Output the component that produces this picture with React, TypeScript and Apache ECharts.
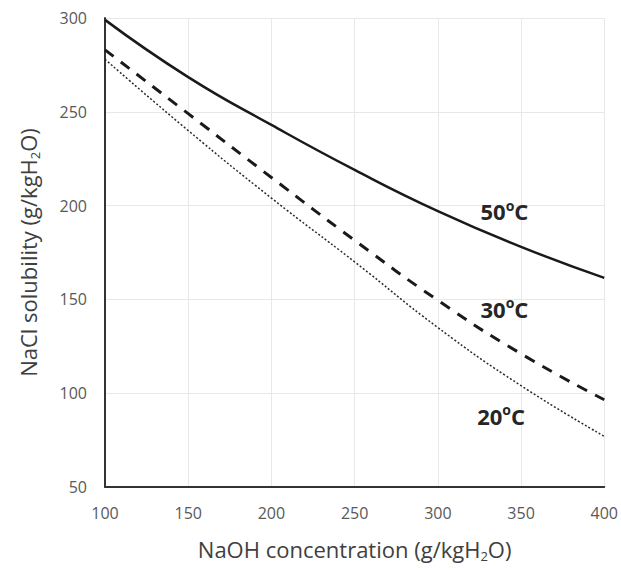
import React, { useEffect, useRef } from "react";
import * as echarts from "echarts";

const xValues = [100, 150, 200, 250, 300, 350, 400];
const t50 = [299, 268.5, 243, 219, 197, 178, 161.5];
const t30 = [283, 249, 215, 181.5, 149.5, 121, 96.5];
const t20 = [278, 240, 204, 170, 135, 104, 77];
const seriesNames = ["50", "30", "20"];
const labelPos: [number, number][] = [
  [340, 197],
  [340, 145],
  [338, 88],
];

const FONT = "'Open Sans', sans-serif";

export default function App() {
  const ref = useRef<HTMLDivElement>(null);
  useEffect(() => {
    if (!ref.current) return;
    const chart = echarts.init(ref.current, undefined, { renderer: "svg" });
    const mk = (vals: number[]) => xValues.map((x, i) => [x, vals[i]]);
    const labelRich = {
      b: { fontSize: 22, lineHeight: 26, fontWeight: "bold", color: "#262626", fontFamily: FONT },
      sup: {
        fontSize: 14,
        lineHeight: 14,
        verticalAlign: "top",
        fontWeight: "bold",
        color: "#262626",
        fontFamily: FONT,
      },
    };
    const markFor = (i: number) => ({
      symbol: "none",
      silent: true,
      data: [
        {
          coord: labelPos[i],
          symbol: "circle",
          symbolSize: 1,
          itemStyle: { color: "rgba(0,0,0,0)" },
          label: {
            show: true,
            position: "inside",
            formatter: `{b|${seriesNames[i]}}{sup|o}{b|C}`,
            rich: labelRich,
          },
        },
      ],
    });
    const titleRich = {
      a: { fontSize: 22, lineHeight: 26, color: "#404040", fontFamily: FONT },
      s: { fontSize: 13, lineHeight: 13, verticalAlign: "bottom", color: "#404040", fontFamily: FONT },
    };
    chart.setOption({
      animation: false,
      backgroundColor: "#ffffff",
      grid: { left: 105, right: 15, top: 18, bottom: 83 },
      xAxis: {
        type: "value",
        min: 100,
        max: 400,
        interval: 50,
        axisLine: { show: true, lineStyle: { color: "#333333", width: 2 } },
        axisTick: { show: false },
        axisLabel: { color: "#595959", fontSize: 16, margin: 18, fontFamily: FONT },
        splitLine: { show: true, lineStyle: { color: "#e8e8e8", width: 1 } },
        name: "{a|NaOH concentration (g/kgH}{s|2}{a|O)}",
        nameLocation: "middle",
        nameGap: 49,
        nameTextStyle: { rich: titleRich },
      },
      yAxis: {
        type: "value",
        min: 50,
        max: 300,
        interval: 50,
        axisLine: { show: true, lineStyle: { color: "#333333", width: 2 } },
        axisTick: { show: false },
        axisLabel: { color: "#595959", fontSize: 16, margin: 18, fontFamily: FONT },
        splitLine: { show: true, lineStyle: { color: "#e8e8e8", width: 1 } },
        name: "{a|NaCl solubility (g/kgH}{s|2}{a|O)}",
        nameLocation: "middle",
        nameGap: 64,
        nameTextStyle: { rich: titleRich },
      },
      series: [
        {
          type: "line",
          name: "50°C",
          data: mk(t50),
          smooth: true,
          showSymbol: false,
          lineStyle: { color: "#1a1a1a", width: 2.5, type: "solid" },
          markPoint: markFor(0),
          z: 5,
        },
        {
          type: "line",
          name: "30°C",
          data: mk(t30),
          smooth: true,
          showSymbol: false,
          lineStyle: { color: "#1a1a1a", width: 3, type: [11, 9] },
          markPoint: markFor(1),
          z: 5,
        },
        {
          type: "line",
          name: "20°C",
          data: mk(t20),
          smooth: true,
          showSymbol: false,
          lineStyle: { color: "#2b2b2b", width: 1.5, type: [2, 2] },
          markPoint: markFor(2),
          z: 5,
        },
      ],
    });
    return () => chart.dispose();
  }, []);
  return (
    <div
      ref={ref}
      style={{ position: "fixed", left: 0, top: 0, width: 621, height: 570, background: "#fff" }}
    />
  );
}
